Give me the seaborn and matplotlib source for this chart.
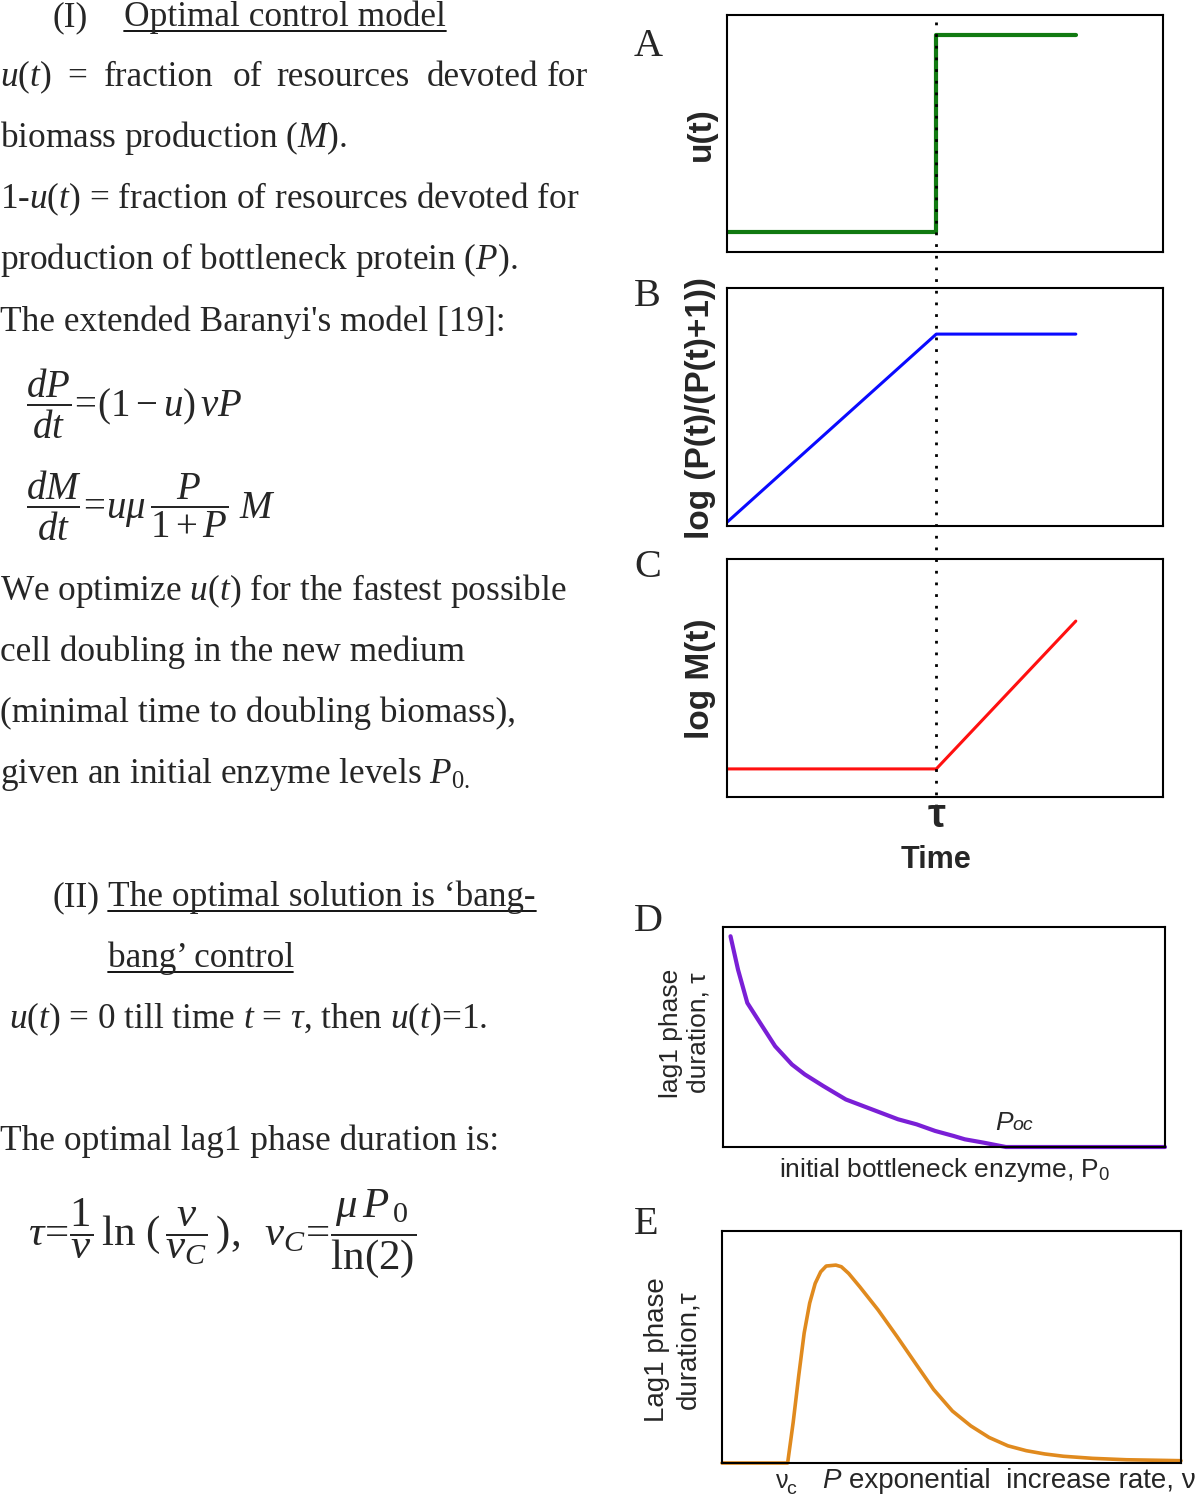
import numpy as np
import pandas as pd
import matplotlib
matplotlib.use('Agg')
import matplotlib.pyplot as plt
import seaborn as sns
from matplotlib.lines import Line2D

# --- data (normalised units) ---
tau = 0.48
t_end = 0.80

# A: bang-bang control u(t)
a_t = [0.0, tau, tau, t_end]
a_u = [0.0, 0.0, 1.0, 1.0]

# B: log(P/(P+1))
b_t = [0.0, tau, t_end]
b_p = [0.0, 1.0, 1.0]

# C: log M(t)
c_t = [0.0, tau, t_end]
c_m = [0.0, 0.0, 1.0]

# D: lag1 duration vs initial enzyme P0
d_p0 = [0.017, 0.034, 0.055, 0.084, 0.118, 0.156, 0.185, 0.227, 0.278, 0.337,
        0.396, 0.438, 0.480, 0.522, 0.547, 0.589, 0.640, 1.0]
d_tau = [0.958, 0.806, 0.655, 0.564, 0.458, 0.375, 0.330, 0.277, 0.216, 0.171,
         0.126, 0.103, 0.073, 0.050, 0.035, 0.020, 0.0, 0.0]

# E: lag1 duration vs P exponential increase rate nu
e_nu = [0.0, 0.143, 0.155, 0.167, 0.179, 0.191, 0.203, 0.215, 0.227, 0.248, 0.260,
        0.276, 0.300, 0.340, 0.381, 0.421, 0.461, 0.502, 0.542, 0.582, 0.623,
        0.663, 0.703, 0.744, 0.808, 0.881, 1.0]
e_tau = [0.0, 0.0, 0.174, 0.374, 0.560, 0.689, 0.774, 0.824, 0.849, 0.853, 0.846,
         0.817, 0.760, 0.660, 0.546, 0.431, 0.317, 0.224, 0.160, 0.110, 0.074,
         0.053, 0.039, 0.029, 0.020, 0.014, 0.010]

sns.set_style('white')
plt.rcParams['font.family'] = ['Liberation Serif', 'DejaVu Serif']
plt.rcParams['mathtext.fontset'] = 'custom'
plt.rcParams['mathtext.rm'] = 'Liberation Serif'
plt.rcParams['mathtext.it'] = 'Liberation Serif:italic'
plt.rcParams['mathtext.bf'] = 'Liberation Serif:bold'
plt.rcParams['mathtext.sf'] = 'Liberation Sans'

W, H = 1200, 1498
fig = plt.figure(figsize=(12, 14.98), dpi=100)


def fx(x):
    return x / W


def fy(y):
    return 1 - y / H


def add_panel(x0, y0, x1, y1):
    ax = fig.add_axes([fx(x0), fy(y1), (x1 - x0) / W, (y1 - y0) / H])
    ax.set_xticks([])
    ax.set_yticks([])
    for s in ax.spines.values():
        s.set_color('black')
        s.set_linewidth(1.5)
    return ax


def txt(x, y, s, size=25.4, **kw):
    kw.setdefault('va', 'baseline')
    kw.setdefault('ha', 'left')
    return fig.text(fx(x), fy(y), s, fontsize=size, **kw)


def underline(x0, x1, y):
    fig.add_artist(Line2D([fx(x0), fx(x1)], [fy(y), fy(y)], color='black', lw=1.3,
                          transform=fig.transFigure))


UT = r'$\mathit{u(t)}$'

# ---------------- left text column ----------------
txt(53, 26, '(I)')
txt(124, 26, 'Optimal control model')
underline(124, 446, 31)

for x, w in zip([0, 67, 104, 233, 276, 427, 547],
                [UT, '=', 'fraction', 'of', 'resources', 'devoted', 'for']):
    txt(x, 86, w)
txt(0, 147, 'biomass production ($M$).')
txt(0, 208, '1-' + UT + ' = fraction of resources devoted for')
txt(0, 269, 'production of bottleneck protein ($P$).')
txt(0, 331, "The extended Baranyi's model [19]:")

txt(26, 404, r'$\dfrac{dP}{dt}\!=\!(1-u)\,\nu P$', size=28, va='center')
txt(26, 506, r'$\dfrac{dM}{dt}\!=\!u\mu\,\dfrac{P}{1+P}\;M$', size=28, va='center')

txt(0, 600, 'We optimize ' + UT + ' for the fastest possible')
txt(0, 661, 'cell doubling in the new medium')
txt(0, 722, '(minimal time to doubling biomass),')
txt(0, 783, r'given an initial enzyme levels $P_{0.}$')

txt(53, 906, '(II)')
txt(108, 906, 'The optimal solution is \u2018bang-')
underline(108, 536, 911)
txt(108, 967, 'bang\u2019 control')
underline(108, 293, 972)
txt(9, 1028, UT + r' = 0 till time $t$ = $\tau$, then ' + UT + '=1.')

txt(0, 1150, 'The optimal lag1 phase duration is:')
txt(28, 1234, r'$\tau\!=\!\dfrac{1}{\nu}\,\ln\,(\,\dfrac{\nu}{\nu_C}\,),\;\;\nu_C\!=\!\dfrac{\mu\,P_{\,0}}{\ln(2)}$',
    size=31, va='center')

# ---------------- panel letters ----------------
for lab, x, y in [('A', 634, 56), ('B', 634, 306), ('C', 634, 577),
                  ('D', 634, 931), ('E', 634, 1234)]:
    txt(x, y, lab, size=29)

sans = ['Liberation Sans', 'DejaVu Sans']

# ---------------- panel A ----------------
axA = add_panel(727, 15, 1163, 252)
sns.lineplot(x=a_t, y=a_u, ax=axA, color='#117a11', lw=3.0, sort=False, estimator=None)
axA.set_xlim(0, 1)
axA.set_ylim(-0.10, 1.10)
axA.set_xticks([])
axA.set_yticks([])
fig.text(fx(701), fy(134), 'u(t)', rotation=90, ha='center', va='center',
         fontsize=24, fontweight='bold', family=sans)

# ---------------- panel B ----------------
axB = add_panel(727, 288, 1163, 526)
sns.lineplot(x=b_t, y=b_p, ax=axB, color='#0a0aff', lw=2.2, sort=False, estimator=None)
axB.set_xlim(0, 1)
axB.set_ylim(-0.02, 1.245)
axB.set_xticks([])
axB.set_yticks([])
fig.text(fx(701), fy(408), 'log (P(t)/(P(t)+1))', rotation=90, ha='center', va='center',
         fontsize=24, fontweight='bold', family=sans)

# ---------------- panel C ----------------
axC = add_panel(727, 559, 1163, 797)
sns.lineplot(x=c_t, y=c_m, ax=axC, color='#ff1010', lw=2.2, sort=False, estimator=None)
axC.set_xlim(0, 1)
axC.set_ylim(-0.19, 1.42)
axC.set_xticks([])
axC.set_yticks([])
fig.text(fx(701), fy(679), 'log M(t)', rotation=90, ha='center', va='center',
         fontsize=24, fontweight='bold', family=sans)

# dotted tau line spanning A-C
xt = fig.transFigure.inverted().transform(axA.transData.transform((tau, 0)))[0]
fig.add_artist(Line2D([xt, xt], [fy(22), fy(804)], color='black', lw=2.0,
                      linestyle=(0, (1, 3.2)), transform=fig.transFigure))
fig.text(xt, fy(816), '\u03c4', ha='center', va='center', fontsize=29,
         fontweight='bold', family=sans)
fig.text(xt, fy(860), 'Time', ha='center', va='center', fontsize=22,
         fontweight='bold', family=sans)

# ---------------- panel D ----------------
axD = add_panel(723, 927, 1165, 1147)
sns.lineplot(x=d_p0, y=d_tau, ax=axD, color='#7a1fd6', lw=3.0, sort=False, estimator=None,
             clip_on=False)
axD.set_xlim(0, 1)
axD.set_ylim(0, 1)
axD.set_xticks([])
axD.set_yticks([])
fig.text(fx(685), fy(1033), 'lag1 phase\nduration, \u03c4', rotation=90, ha='center',
         va='center', fontsize=19, family=sans, linespacing=1.2)
fig.text(fx(945), fy(1170), 'initial bottleneck enzyme, P$_\\mathsf{0}$', ha='center',
         va='center', fontsize=19, family=sans)
fig.text(fx(995), fy(1130), 'P', ha='left', va='baseline', fontsize=19,
         family=sans, style='italic')
fig.text(fx(1012), fy(1130), 'oc', ha='left', va='baseline', fontsize=14,
         family=sans, style='italic')

# ---------------- panel E ----------------
axE = add_panel(722, 1231, 1181, 1463)
sns.lineplot(x=e_nu, y=e_tau, ax=axE, color='#e08a1e', lw=2.6, sort=False, estimator=None,
             clip_on=False)
axE.set_xlim(0, 1)
axE.set_ylim(0, 1)
axE.set_xticks([])
axE.set_yticks([])
fig.text(fx(673), fy(1350), 'Lag1 phase\nduration,\u03c4', rotation=90, ha='center',
         va='center', fontsize=20, family=sans, linespacing=1.25)
fig.text(fx(776), fy(1488), '\u03bd', ha='left', va='baseline', fontsize=18, family=sans)
fig.text(fx(786), fy(1494), 'c', ha='left', va='baseline', fontsize=14, family=sans)
fig.text(fx(822), fy(1488), 'P', ha='left', va='baseline', fontsize=20, family=sans,
         style='italic')
fig.text(fx(849), fy(1488), 'exponential  increase rate, \u03bd', ha='left', va='baseline',
         fontsize=20, family=sans)

fig.savefig('out.png', dpi=100)
